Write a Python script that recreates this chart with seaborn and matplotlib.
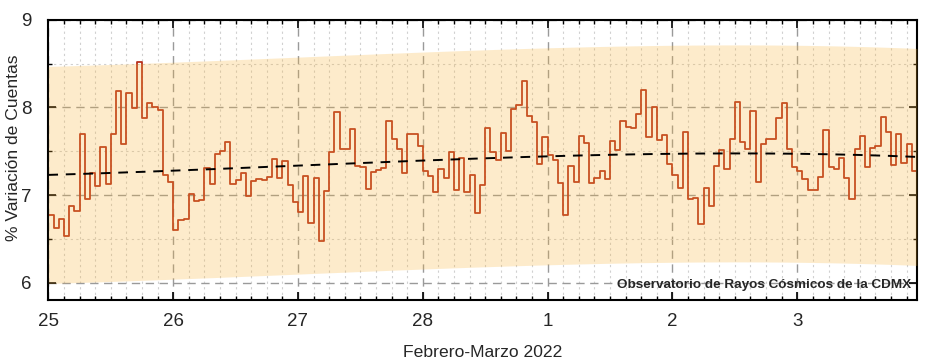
import numpy as np
import pandas as pd
import seaborn as sns
import matplotlib.pyplot as plt
from matplotlib.ticker import MultipleLocator, FixedLocator, FixedFormatter

# variación horaria (%) desde 25 feb 2022 00:00
variacion = [
    6.77, 6.62, 6.73, 6.53, 6.87, 6.82, 7.70, 6.96, 7.25, 7.10, 7.55, 7.13,
    7.70, 8.19, 7.58, 8.17, 7.99, 8.52, 7.88, 8.05, 8.00, 7.97, 7.23, 7.15,
    6.60, 6.71, 6.73, 7.01, 6.93, 6.94, 7.31, 7.13, 7.47, 7.50, 7.61, 7.13,
    7.17, 7.25, 6.99, 7.16, 7.18, 7.17, 7.21, 7.41, 7.20, 7.39, 7.12, 6.92,
    6.81, 7.22, 6.68, 7.19, 6.48, 7.05, 7.49, 7.95, 7.52, 7.53, 7.75, 7.33,
    7.32, 7.07, 7.26, 7.29, 7.31, 7.85, 7.64, 7.52, 7.25, 7.70, 7.70, 7.56,
    7.27, 7.22, 7.04, 7.30, 7.19, 7.49, 7.06, 7.42, 7.03, 7.23, 6.79, 7.11,
    7.77, 7.49, 7.40, 7.71, 7.50, 7.98, 8.03, 8.30, 7.90, 7.83, 7.36, 7.66,
    7.46, 7.40, 7.14, 6.77, 7.33, 7.15, 7.67, 7.59, 7.14, 7.19, 7.28, 7.18,
    7.62, 7.51, 7.84, 7.78, 7.77, 7.93, 8.20, 7.66, 8.01, 7.63, 7.68, 7.35,
    7.23, 7.08, 7.72, 6.95, 6.97, 6.67, 7.08, 6.87, 7.33, 7.51, 7.30, 7.64,
    8.06, 7.61, 7.52, 7.96, 7.15, 7.58, 7.64, 7.64, 7.88, 8.05, 7.53, 7.32,
    7.27, 7.18, 7.06, 7.06, 7.21, 7.74, 7.32, 7.30, 7.42, 7.20, 6.96, 7.52,
    7.67, 7.32, 7.54, 7.56, 7.89, 7.72, 7.34, 7.70, 7.37, 7.58, 7.27,
]
dias = ['25', '26', '27', '28', '1', '2', '3']

horas = np.arange(len(variacion))
t = horas / 24.0
t_fin = len(variacion) / 24.0

# ajuste polinomial y banda de confianza
coef = np.polyfit(t, variacion, 3)
t_fit = np.linspace(0, t_fin, 300)
ajuste = np.polyval(coef, t_fit)
sigma = np.std(np.array(variacion) - np.polyval(coef, t))
ancho = 3.3 * sigma

df = pd.DataFrame({'t': np.append(t, t_fin), 'v': variacion + [variacion[-1]]})

sns.set_style('ticks')
plt.rcParams['font.family'] = ['Liberation Sans', 'DejaVu Sans']

fig = plt.figure(figsize=(9.29, 3.62), dpi=100)
ax = fig.add_axes([0.052, 0.171, 0.935, 0.774])

sns.lineplot(data=df, x='t', y='v', drawstyle='steps-post', color='#b8301c',
             linewidth=1.3, ax=ax, zorder=2)
ax.fill_between(t_fit, ajuste - ancho, ajuste + ancho,
                color='#f9b233', alpha=0.25, linewidth=0, zorder=3)
ax.plot(t_fit, ajuste, color='black', linestyle=(0, (5, 4)), linewidth=1.4,
        zorder=4)

ax.set_xlim(0, t_fin)
ax.set_ylim(5.8, 9)
ax.xaxis.set_major_locator(FixedLocator(range(len(dias))))
ax.xaxis.set_major_formatter(FixedFormatter(dias))
ax.xaxis.set_minor_locator(MultipleLocator(0.125))
ax.yaxis.set_major_locator(MultipleLocator(1))
ax.yaxis.set_minor_locator(MultipleLocator(0.5))

ax.grid(which='major', color='#9a9a9a', linestyle=(0, (6, 4)), linewidth=1.0)
ax.grid(which='minor', color='#d0d0d0', linestyle=(0, (2, 3)), linewidth=0.8)
ax.set_axisbelow(True)

ax.tick_params(which='both', direction='in', top=True, right=True,
               labelsize=13.5, color='black')
ax.tick_params(which='major', length=6, width=1.2)
ax.tick_params(which='minor', length=3, width=1.0)
ax.tick_params(axis='x', which='major', pad=9)
ax.tick_params(axis='y', which='major', pad=12)
for s in ax.spines.values():
    s.set_linewidth(1.5)
    s.set_color('black')

ax.set_xlabel('Febrero-Marzo 2022', fontsize=12.6, labelpad=11)
ax.set_ylabel('% Variación de Cuentas', fontsize=12.6)
ax.yaxis.set_label_coords(-0.031, 0.545)

ax.text(0.993, 0.054, 'Observatorio de Rayos Cósmicos de la CDMX',
        transform=ax.transAxes, ha='right', va='center', fontsize=9.7,
        fontweight='bold', zorder=5)

fig.savefig('out.png', dpi=100)
